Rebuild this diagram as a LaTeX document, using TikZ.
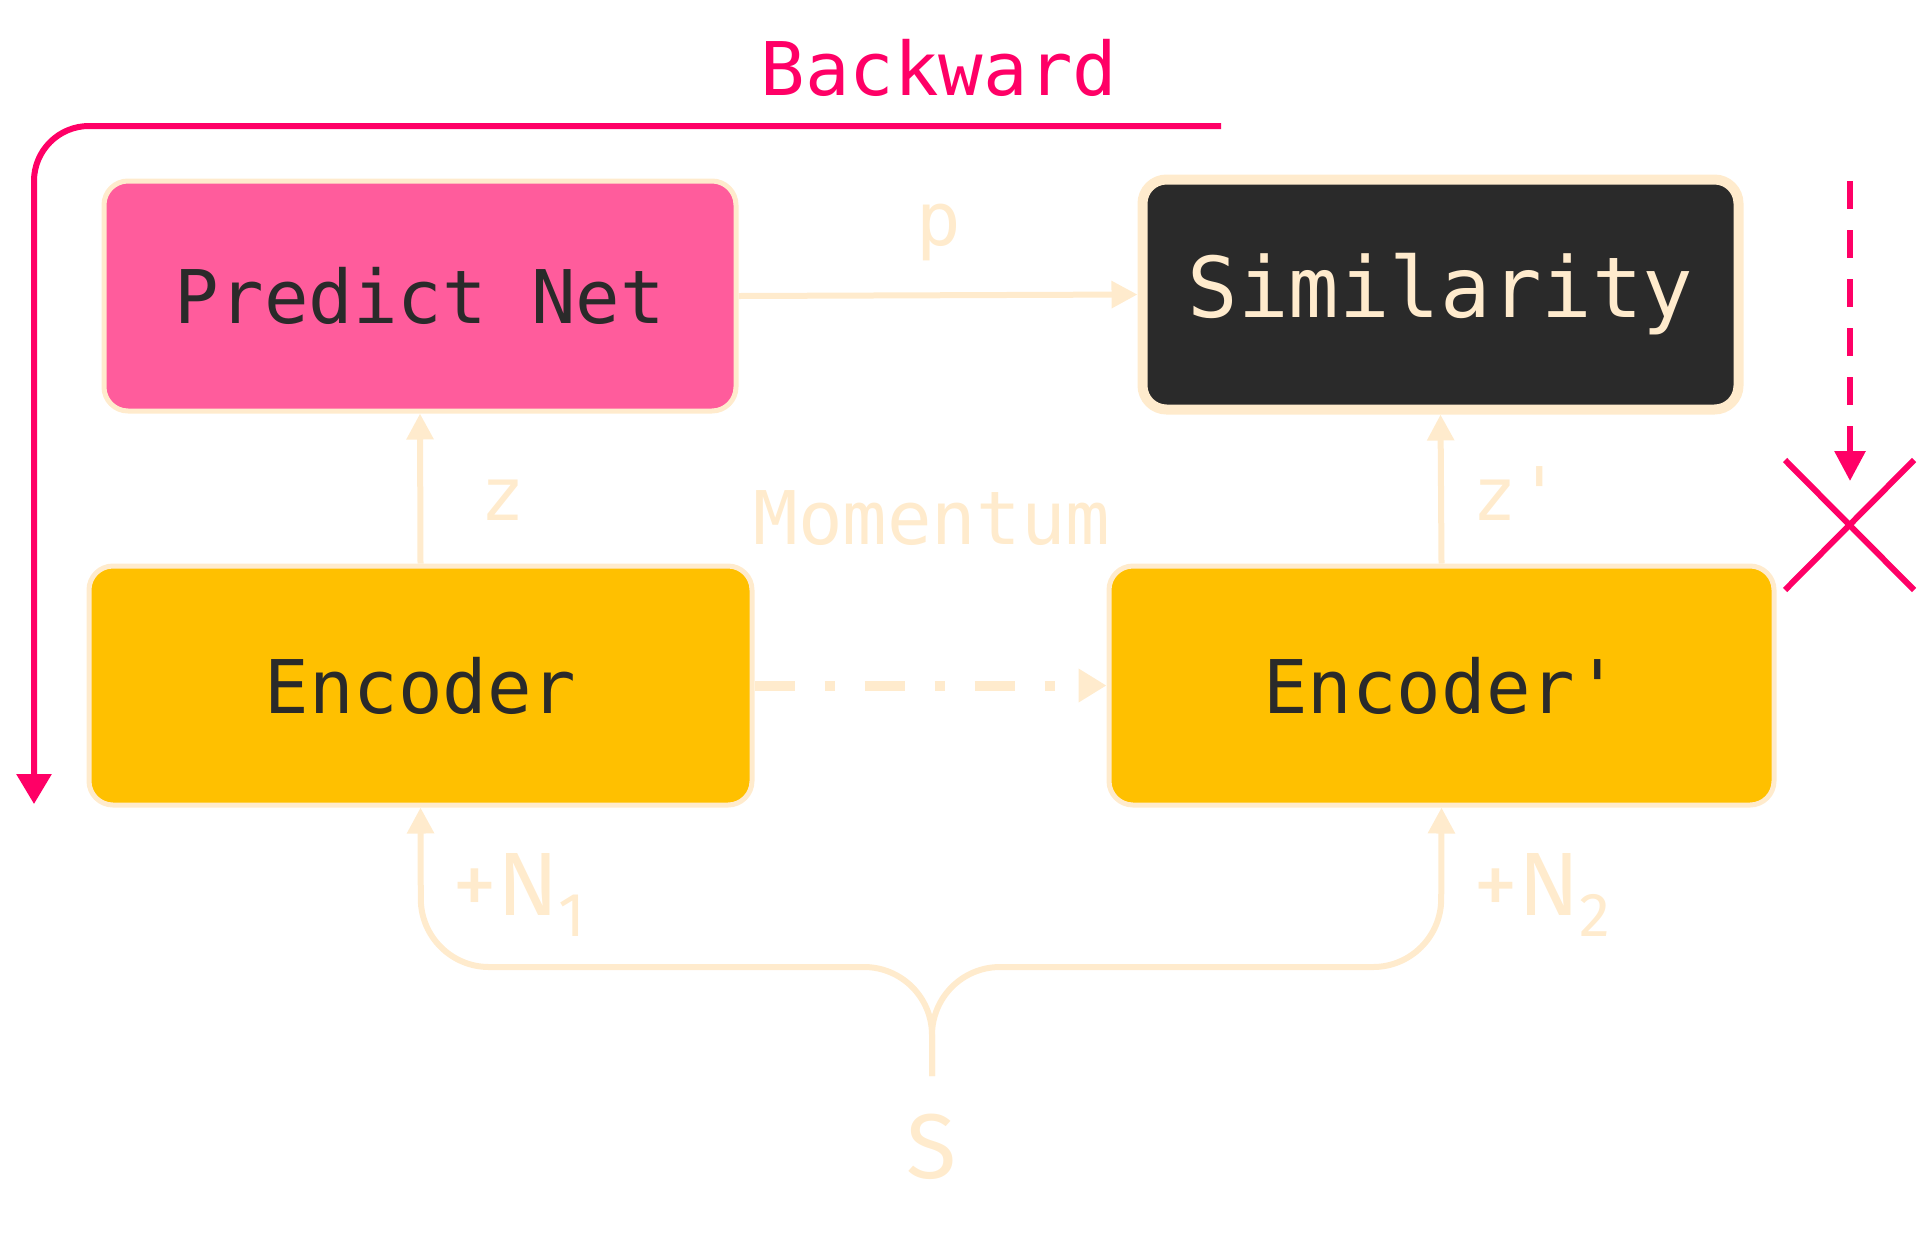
\documentclass[tikz,border=0pt]{standalone}
\usepackage{fontspec}
\setmonofont{DejaVu Sans Mono}
\renewcommand{\familydefault}{\ttdefault}
\newfontfamily\sansf{Fira Sans}
\usetikzlibrary{arrows.meta}
\definecolor{cream}{HTML}{FFEBCD}
\definecolor{hotpink}{HTML}{FF0066}
\definecolor{pinkfill}{HTML}{FF5C9C}
\definecolor{ambr}{HTML}{FFC000}
\definecolor{darkbg}{HTML}{2A2A2A}
\tikzset{
  box/.style={rectangle, rounded corners=24pt, draw=cream, line width=5pt, inner sep=0pt, font=\ttfamily\fontsize{74}{74}\selectfont, text=darkbg},
  conn/.style={draw=cream, line width=6pt, -{Triangle[length=26pt,width=26pt]}},
  lbl/.style={text=cream, inner sep=0pt, font=\ttfamily\fontsize{74}{74}\selectfont},
  pinkln/.style={draw=hotpink, line width=6pt},
}
\begin{document}
\begin{tikzpicture}[x=1pt,y=-1pt]
\useasboundingbox (0,0) rectangle (1918,1259);
% boxes
\node[box, fill=pinkfill, minimum width=632pt, minimum height=230pt] (pred) at (420,296) {Predict Net};
\node[box, fill=darkbg, text=cream, line width=10pt, minimum width=596pt, minimum height=230pt, font=\ttfamily\fontsize{84}{84}\selectfont] (sim) at (1440.5,294.5) {Similarity};
\node[box, fill=ambr, minimum width=663pt, minimum height=239pt] (enc) at (420.5,685.5) {Encoder};
\node[box, fill=ambr, minimum width=665pt, minimum height=239pt] (enc2) at (1441.5,685.5) {Encoder'};
% connectors
\draw[conn] (pred.east) -- (sim.west);
\draw[conn] (enc.north) -- (pred.south);
\draw[conn] (enc2.north) -- (sim.south);
\draw[draw=cream, line width=10pt, dash pattern=on 40pt off 30pt on 10pt off 30pt, -{Triangle[length=28pt,width=32pt]}] (enc.east) -- (enc2.west);
% labels
\node[lbl, anchor=base] (plbl) at (939,245) {p};
\node[lbl, anchor=base] (zlbl) at (503,520) {z};
\node[lbl, anchor=base] (z2lbl) at (1517,520) {z'};
\node[lbl, anchor=base] (mom) at (932,544) {Momentum};
% bottom split
\coordinate (s) at (932,1076);
\coordinate (sl) at (421,967);
\coordinate (sm) at (932,967);
\coordinate (sr) at (1441,967);
\draw[conn, rounded corners=68pt] (s) -- (sm) -- (sl) -- (enc.south);
\draw[conn, rounded corners=68pt] (s) -- (sm) -- (sr) -- (enc2.south);
\node[text=cream, inner sep=0pt, anchor=base west, font=\sansf\fontsize{90}{90}\selectfont] (n1) at (452,915) {+N\raisebox{-21pt}{\fontsize{62}{62}\selectfont 1}};
\node[text=cream, inner sep=0pt, anchor=base west, font=\sansf\fontsize{90}{90}\selectfont] (n2) at (1473,915) {+N\raisebox{-21pt}{\fontsize{62}{62}\selectfont 2}};
\node[text=cream, inner sep=0pt, anchor=base, font=\sansf\fontsize{92}{92}\selectfont] (slbl) at (932,1178) {S};
% backward
\node[text=hotpink, inner sep=0pt, anchor=base, font=\ttfamily\fontsize{74}{74}\selectfont] (bw) at (939,95) {Backward};
\coordinate (bwa) at (1221,126);
\coordinate (bwb) at (34,126);
\coordinate (bwc) at (34,804);
\draw[pinkln, rounded corners=55pt, -{Triangle[length=30pt,width=34pt]}] (bwa) -- (bwb) -- (bwc);
% stop gradient
\coordinate (sga) at (1850,181);
\coordinate (sgb) at (1850,481);
\draw[pinkln, dash pattern=on 28pt off 21pt, -{Triangle[length=30pt,width=30pt]}] (sga) -- (sgb);
\coordinate (xa) at (1785,460);
\coordinate (xb) at (1914,590);
\coordinate (xc) at (1785,590);
\coordinate (xd) at (1914,460);
\draw[pinkln] (xa) -- (xb);
\draw[pinkln] (xc) -- (xd);
\end{tikzpicture}
\end{document}
